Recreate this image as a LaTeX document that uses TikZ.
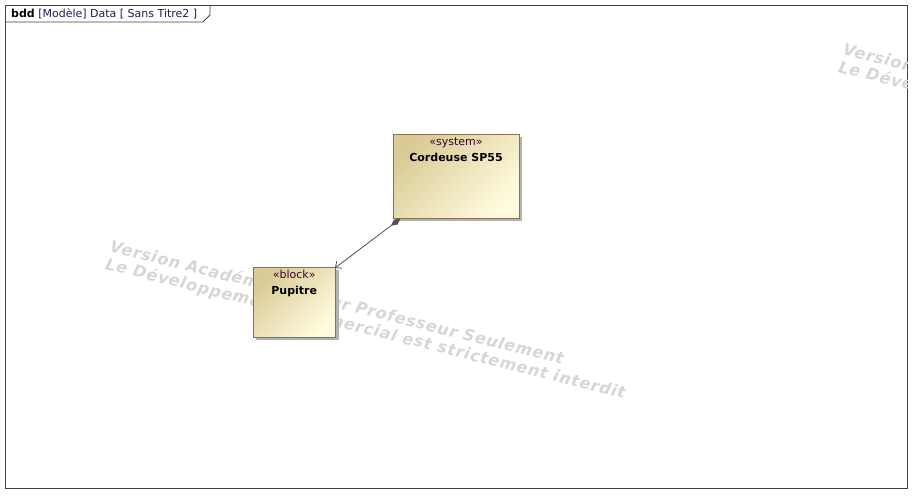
\documentclass[tikz,border=0pt]{standalone}
\usepackage{fontspec}
\setmainfont{DejaVu Sans}
\usetikzlibrary{positioning, arrows.meta, shadows}

\definecolor{tanDark}{RGB}{218,203,150}
\definecolor{tanLight}{RGB}{255,251,222}
\definecolor{blockBorder}{RGB}{140,112,78}
\definecolor{stereoPurple}{RGB}{60,0,50}
\definecolor{headerBlue}{RGB}{30,30,90}
\definecolor{frameGray}{RGB}{64,64,64}
\definecolor{linkGray}{RGB}{80,80,80}

\tikzset{
  block/.style = {draw=blockBorder, line width=1pt, inner sep=0pt, anchor=north west,
    top color=tanDark, bottom color=tanLight, shading angle=45,
    drop shadow={shadow xshift=3pt, shadow yshift=-3pt, fill=black!30, opacity=1}},
  blocktext/.style = {align=center, inner sep=0pt, font=\fontsize{11}{15.5}\selectfont},
  watermark/.style = {text=gray!32, font=\bfseries\itshape\fontsize{16}{18}\selectfont\addfontfeatures{LetterSpace=5},
    align=left, rotate=-14, anchor=north west, inner sep=0pt},
  composition/.style = {draw=linkGray, line width=0.8pt,
    {Diamond[length=12pt, width=6pt, fill=linkGray]}-{Straight Barb[length=5pt, width=9pt]}},
}

\begin{document}
\begin{tikzpicture}[x=1pt, y=-1pt]

    \useasboundingbox (0,0) rectangle (922,503);

    % frame and header tab
    \draw[frameGray, line width=1pt] (5.5,5.5) rectangle (907.5,488.5);
    \draw[frameGray, line width=0.8pt] (5.5,22) -- (203,22) -- (210,15) -- (210,5.5);
    \node[anchor=base west, inner sep=0pt, font=\fontsize{11}{13}\selectfont] (header) at (11,18)
        {\textbf{bdd} {\color{headerBlue}[Modèle] Data [ Sans Titre2 ]}};

    % watermark
    \begin{scope}
        \clip (5.5,5.5) rectangle (907.5,488.5);
        \foreach \wx / \wy / \wname in { 112/239/wmleft, 845/42/wmright }
        \node[watermark] (\wname) at (\wx, \wy)
            {Version Académique Pour Professeur Seulement\\Le Développement Commercial est strictement interdit};
    \end{scope}

    % blocks
    \node[block, minimum width=126pt, minimum height=84pt] (cordeuse) at (392.5,133.5) {};
    \node[blocktext, below=4.5pt of cordeuse.north] (cordeusetext)
        {{\color{stereoPurple}«system»}\\\textbf{Cordeuse SP55}};

    \node[block, minimum width=82.5pt, minimum height=70pt] (pupitre) at (252.5,266.5) {};
    \node[blocktext, below=3.5pt of pupitre.north] (pupitretext)
        {{\color{stereoPurple}«block»}\\\textbf{Pupitre}};

    \draw[composition] ([xshift=8pt]cordeuse.south west) -- ([shift={(-1pt,-1.5pt)}]pupitre.north east);

\end{tikzpicture}
\end{document}
